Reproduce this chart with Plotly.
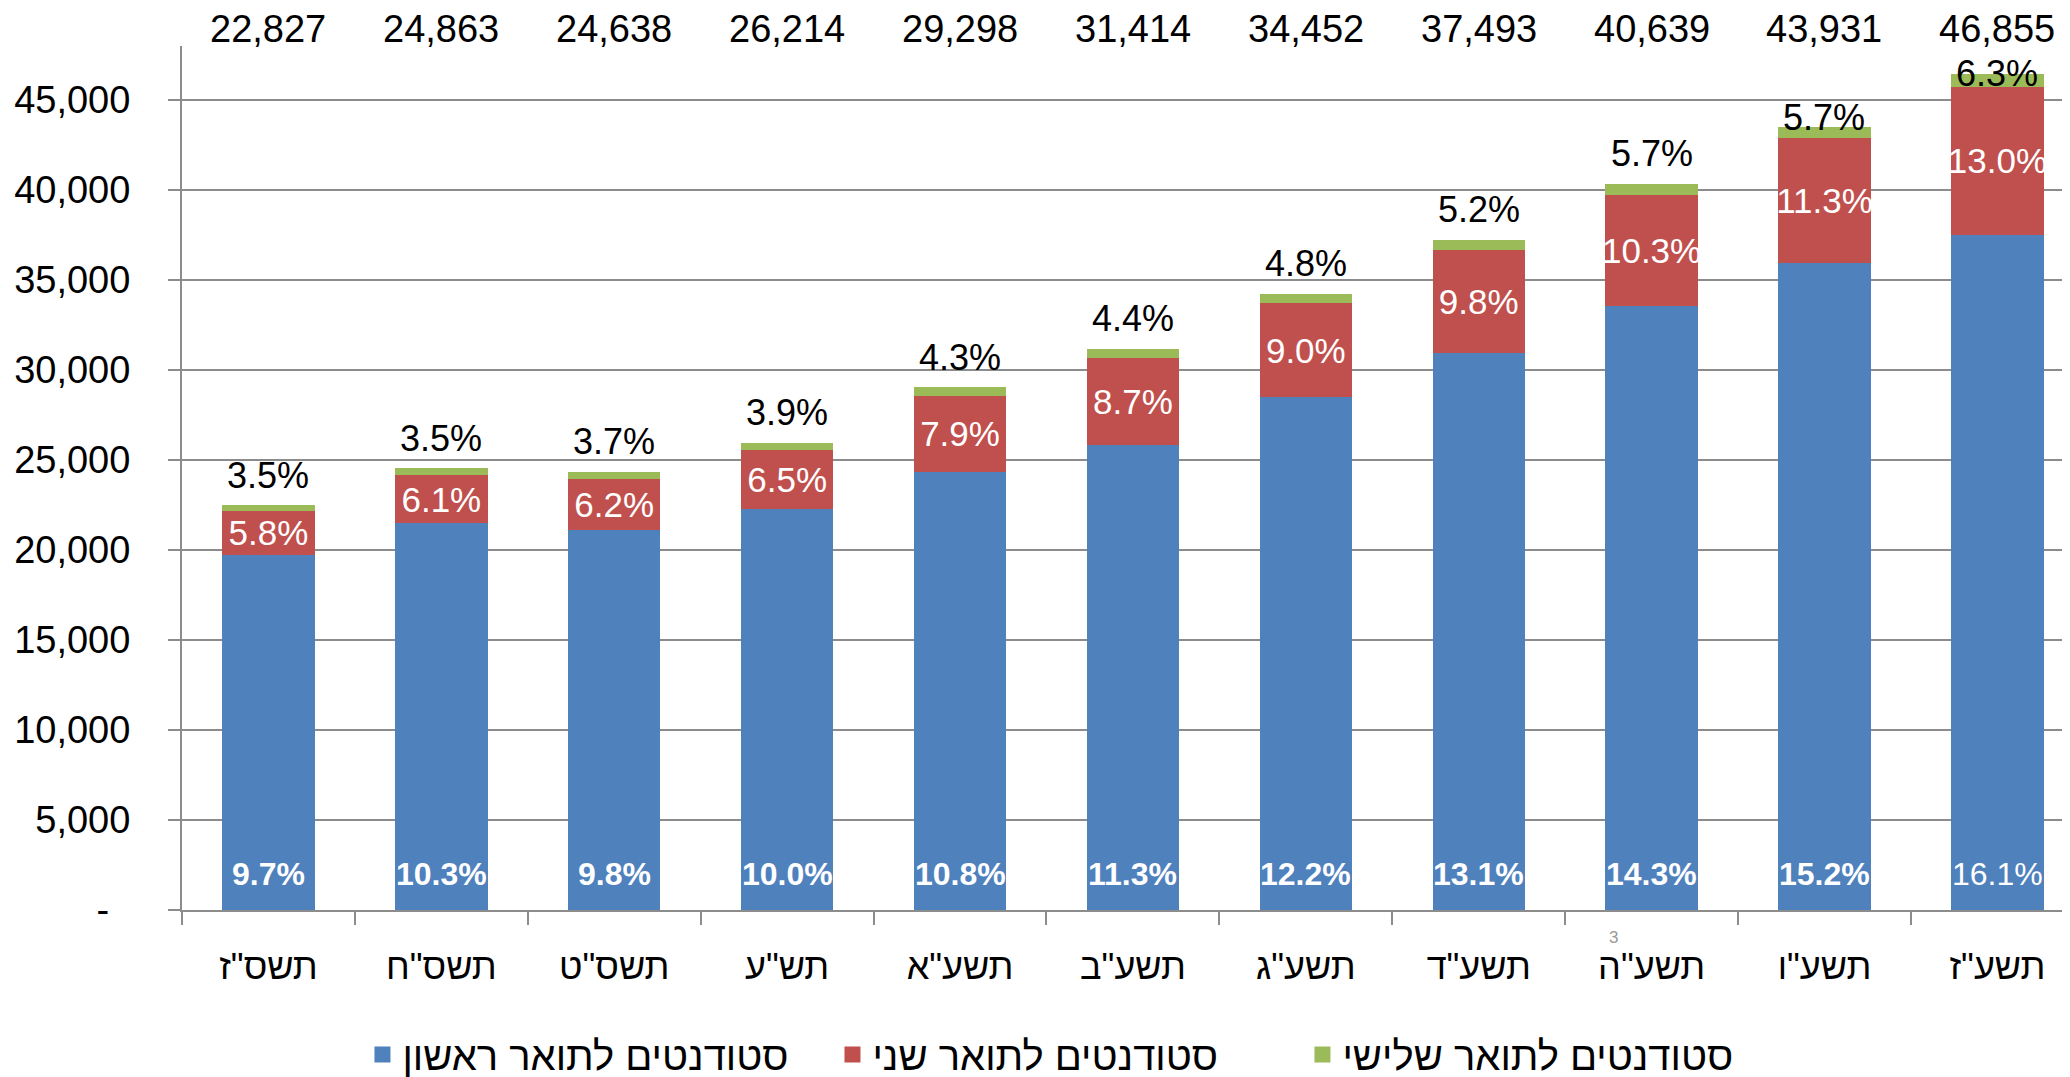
import plotly.graph_objects as go

# ---- data -----------------------------------------------------------------
categories = ['תשס"ז', 'תשס"ח', 'תשס"ט', 'תש"ע', 'תשע"א', 'תשע"ב',
              'תשע"ג', 'תשע"ד', 'תשע"ה', 'תשע"ו', 'תשע"ז']
first_degree = [19720, 21510, 21130, 22270, 24310, 25840, 28480, 30960, 33580, 35960, 37520]
second_degree = [2450, 2640, 2840, 3270, 4270, 4840, 5220, 5690, 6150, 6930, 8220]
third_degree = [330, 380, 380, 420, 470, 490, 530, 580, 630, 610, 710]
totals = [22827, 24863, 24638, 26214, 29298, 31414, 34452, 37493, 40639, 43931, 46855]
first_pct = ["9.7%", "10.3%", "9.8%", "10.0%", "10.8%", "11.3%", "12.2%", "13.1%", "14.3%", "15.2%", "16.1%"]
second_pct = ["5.8%", "6.1%", "6.2%", "6.5%", "7.9%", "8.7%", "9.0%", "9.8%", "10.3%", "11.3%", "13.0%"]
third_pct = ["3.5%", "3.5%", "3.7%", "3.9%", "4.3%", "4.4%", "4.8%", "5.2%", "5.7%", "5.7%", "6.3%"]
series_names = ["סטודנטים לתואר ראשון", "סטודנטים לתואר שני", "סטודנטים לתואר שלישי"]
y_tick_vals = [0, 5000, 10000, 15000, 20000, 25000, 30000, 35000, 40000, 45000]
y_tick_text = ["-\u00a0\u00a0", "5,000", "10,000", "15,000", "20,000", "25,000",
               "30,000", "35,000", "40,000", "45,000"]

# ---- style ----------------------------------------------------------------
FONT = "Liberation Sans, Arial, DejaVu Sans, sans-serif"
BLUE, RED, GREEN = "#4F81BD", "#C0504D", "#9BBB59"
GRID = "#8C8C8C"
first_bold = [True] * 10 + [False]
third_label_shift = [30] * 9 + [10, 0]

fig = go.Figure()
fig.add_bar(x=categories, y=first_degree, marker=dict(color=BLUE, line=dict(width=0)),
            showlegend=False, name=series_names[0])
fig.add_bar(x=categories, y=second_degree, marker=dict(color=RED, line=dict(width=0)),
            text=second_pct, textposition="inside", insidetextanchor="middle",
            textangle=0, constraintext="none",
            textfont=dict(family=FONT, size=35, color="white"),
            showlegend=False, name=series_names[1])
fig.add_bar(x=categories, y=third_degree, marker=dict(color=GREEN, line=dict(width=0)),
            showlegend=False, name=series_names[2])

# legend entries with larger square symbols
for name, col in zip(series_names, [BLUE, RED, GREEN]):
    fig.add_scatter(x=[None], y=[None], mode="markers", name=name,
                    marker=dict(symbol="square", size=16, color=col))

annotations = []
for i, cat in enumerate(categories):
    t = first_pct[i]
    annotations.append(dict(x=cat, y=0, xref="x", yref="y", text=f"<b>{t}</b>" if first_bold[i] else t,
                            showarrow=False, yanchor="middle", yshift=36,
                            font=dict(family=FONT, size=32, color="white")))
    top = first_degree[i] + second_degree[i] + third_degree[i]
    annotations.append(dict(x=cat, y=top, xref="x", yref="y", text=third_pct[i],
                            showarrow=False, yanchor="middle", yshift=third_label_shift[i],
                            font=dict(family=FONT, size=36, color="black")))
    annotations.append(dict(x=cat, y=1.02, xref="x", yref="paper", text=f"{totals[i]:,}",
                            showarrow=False, yanchor="middle",
                            font=dict(family=FONT, size=38, color="black")))
annotations.append(dict(x=categories[8], y=-0.045, xref="x", yref="paper", text="3",
                        showarrow=False, xshift=-38, font=dict(family=FONT, size=17, color="#999999")))

fig.update_layout(
    barmode="stack",
    bargap=0.466,
    width=2062, height=1069,
    margin=dict(l=174, r=0, t=38, b=167, autoexpand=False),
    paper_bgcolor="white", plot_bgcolor="white",
    font=dict(family=FONT, size=36, color="black"),
    annotations=annotations,
    legend=dict(orientation="h", x=0.469, xanchor="center",
                y=-0.205, yanchor="bottom", traceorder="normal",
                entrywidth=425, itemwidth=30,
                font=dict(family=FONT, size=40, color="black")),
)
fig.update_xaxes(range=[-0.5, 10.42], showline=True, linecolor=GRID, linewidth=2,
                 ticks="outside", tickson="boundaries", ticklen=13, tickcolor=GRID, tickwidth=2,
                 showgrid=False, tickangle=0, tickfont=dict(family=FONT, size=36, color="black"),
                 ticklabelstandoff=24)
fig.update_yaxes(range=[0, 48000], tickvals=y_tick_vals, ticktext=y_tick_text,
                 showline=True, linecolor=GRID, linewidth=2,
                 ticks="outside", ticklen=12, tickcolor=GRID, tickwidth=2,
                 showgrid=True, gridcolor=GRID, gridwidth=2, zeroline=False,
                 tickfont=dict(family=FONT, size=38, color="black"), ticklabelstandoff=30)

fig.write_html("out.html")
